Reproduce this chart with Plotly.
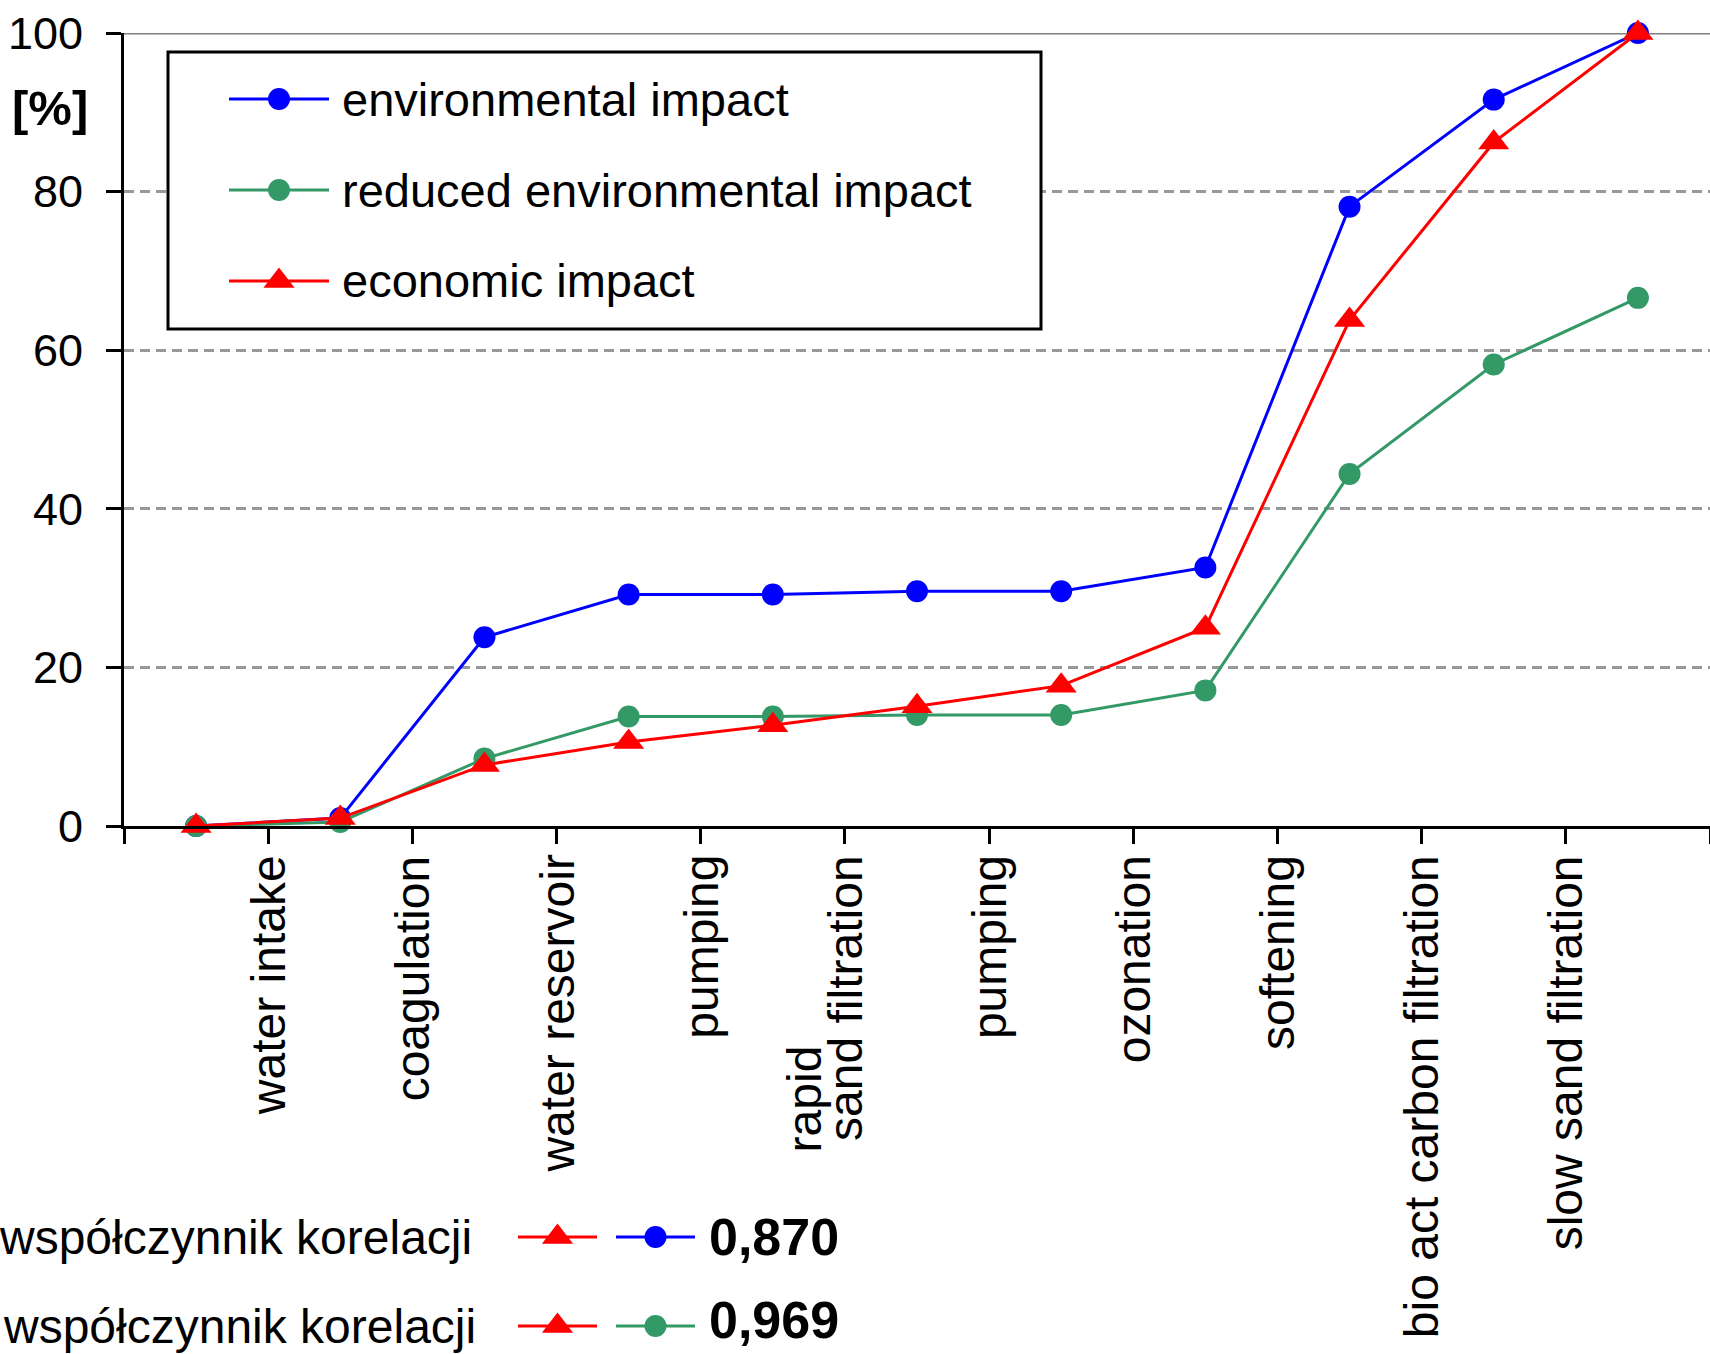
import plotly.graph_objects as go

# ---- data -------------------------------------------------------------
stages = list(range(11))  # cumulative state after each treatment step
processes = [
    "water intake", "coagulation", "water reservoir", "pumping",
    "rapid\nsand filtration", "pumping", "ozonation", "softening",
    "bio act carbon filtration", "slow sand filtration",
]
environmental = [0.0, 1.0, 23.8, 29.2, 29.2, 29.6, 29.6, 32.6, 78.1, 91.6, 100.0]
reduced_environmental = [0.0, 0.5, 8.5, 13.8, 13.8, 14.0, 14.0, 17.1, 44.4, 58.2, 66.6]
economic = [0.0, 1.0, 7.7, 10.6, 12.7, 15.1, 17.7, 25.0, 63.8, 86.2, 100.0]
y_ticks = [0, 20, 40, 60, 80, 100]

series_names = ["environmental impact", "reduced environmental impact", "economic impact"]
correlation_label = "współczynnik korelacji"
correlation_values = ["0,870", "0,969"]

# ---- styling ----------------------------------------------------------
W, H = 1710, 1354
FONT = "Liberation Sans, Arial, sans-serif"
BLUE, GREEN, RED = "#0000FF", "#339966", "#FF0000"
styles = [
    dict(color=BLUE, symbol="circle", size=22),
    dict(color=GREEN, symbol="circle", size=22),
    dict(color=RED, symbol="triangle-up", size=27),
]

# plot area in pixels
PX_LEFT, PX_RIGHT, PX_TOP, PX_BOTTOM = 124, 1710, 33, 826


def px(x):
    return x / W


def py(y):
    return 1 - y / H


fig = go.Figure()

for name, values, st in zip(series_names, [environmental, reduced_environmental, economic], styles):
    fig.add_trace(go.Scatter(
        x=stages, y=values, name=name, mode="lines+markers",
        line=dict(color=st["color"], width=3),
        marker=dict(color=st["color"], symbol=st["symbol"], size=st["size"],
                    opacity=1, line=dict(width=0)),
        cliponaxis=False, showlegend=False, hoverinfo="skip",
    ))

shapes = []
annotations = []

# solid top border line at 100 %
shapes.append(dict(type="line", xref="x", yref="y", x0=stages[0] - 0.5, x1=stages[-1] + 0.5,
                   y0=100, y1=100, line=dict(color="#808080", width=3), layer="between"))

# legend frame (white fill hides the grid behind it)
shapes.append(dict(type="rect", xref="paper", yref="paper",
                   x0=px(168), x1=px(1041), y0=py(329), y1=py(52),
                   fillcolor="#ffffff", line=dict(color="#000000", width=3), layer="above"))


def sample(x0, x1, y, st):
    """Line-with-marker key drawn in pixel positions."""
    xm = (x0 + x1) / 2
    shapes.append(dict(type="line", xref="paper", yref="paper",
                       x0=px(x0), x1=px(x1), y0=py(y), y1=py(y),
                       line=dict(color=st["color"], width=3), layer="above"))
    common = dict(xref="paper", yref="paper", xsizemode="pixel", ysizemode="pixel",
                  xanchor=px(xm), yanchor=py(y), fillcolor=st["color"],
                  line=dict(width=0), layer="above")
    if st["symbol"] == "circle":
        r = st["size"] / 2
        shapes.append(dict(type="circle", x0=-r, x1=r, y0=-r, y1=r, **common))
    else:
        s = st["size"]
        half_w, h = 0.577 * s, 0.75 * s
        path = f"M{-half_w},{-h / 3}L{half_w},{-h / 3}L0,{2 * h / 3}Z"
        shapes.append(dict(type="path", path=path, **common))


legend_rows = [99, 190, 281]
for name, st, yrow in zip(series_names, styles, legend_rows):
    sample(229, 329, yrow, st)
    annotations.append(dict(x=px(340), y=py(yrow), xref="paper", yref="paper", text=name,
                            xanchor="left", yanchor="middle", showarrow=False,
                            font=dict(family=FONT, size=47, color="#000000")))

# correlation rows: economic vs environmental, economic vs reduced
corr_rows = [(1237, -3, styles[0]), (1326, 1, styles[1])]
for (yrow, xtext, other), value in zip(corr_rows, correlation_values):
    sample(518, 597, yrow, styles[2])
    sample(616, 695, yrow, other)
    annotations.append(dict(x=px(xtext), y=py(yrow), xref="paper", yref="paper",
                            text=correlation_label, xanchor="left", yanchor="middle",
                            showarrow=False, font=dict(family=FONT, size=48, color="#000000")))
    annotations.append(dict(x=px(707), y=py(min(yrow, 1320)), xref="paper", yref="paper",
                            text="<b>" + value + "</b>", xanchor="left", yanchor="middle",
                            showarrow=False, font=dict(family=FONT, size=52, color="#000000")))

# unit label
annotations.append(dict(x=px(50), y=py(108), xref="paper", yref="paper", text="<b>[%]</b>",
                        xanchor="center", yanchor="middle", showarrow=False,
                        font=dict(family=FONT, size=49, color="#000000")))

# process labels, rotated, between consecutive stages
LINE_PITCH = 40
CHAR_PX = 19
for k, label in enumerate(processes):
    lines = label.split("\n")
    longest = max(len(s) for s in lines)
    n = len(lines)
    for i, line in enumerate(lines):
        annotations.append(dict(
            x=stages[k] + 0.5, y=0, xref="x", yref="y", text=line,
            textangle=-90, xanchor="center", yanchor="top", showarrow=False,
            xshift=-(n - 1 - i) * LINE_PITCH,
            yshift=-27 - (longest - len(line)) * CHAR_PX,
            font=dict(family=FONT, size=48, color="#000000"),
        ))

fig.update_layout(
    width=W, height=H, autosize=False,
    margin=dict(l=0, r=0, t=0, b=0, pad=0, autoexpand=False),
    paper_bgcolor="#ffffff", plot_bgcolor="#ffffff",
    showlegend=False,
    annotations=annotations, shapes=shapes,
    xaxis=dict(
        domain=[PX_LEFT / W, PX_RIGHT / W],
        range=[stages[0] - 0.5, stages[-1] + 0.5],
        tickvals=[s - 0.5 for s in stages] + [stages[-1] + 0.5],
        showticklabels=False, ticks="outside", ticklen=15, tickwidth=3, tickcolor="#000000",
        showline=True, linewidth=3, linecolor="#000000",
        showgrid=False, zeroline=False, fixedrange=True, automargin=False,
    ),
    yaxis=dict(
        domain=[(H - PX_BOTTOM) / H, (H - PX_TOP) / H],
        range=[0, 100], tickvals=y_ticks,
        ticks="outside", ticklen=15, tickwidth=3, tickcolor="#000000",
        ticklabelstandoff=14,
        tickfont=dict(family=FONT, size=45, color="#000000"),
        showline=True, linewidth=3, linecolor="#000000",
        showgrid=True, gridcolor="#999999", gridwidth=3, griddash="10px,6px",
        zeroline=False, fixedrange=True, automargin=False,
    ),
)

fig.write_html("out.html", config={"displayModeBar": False})
